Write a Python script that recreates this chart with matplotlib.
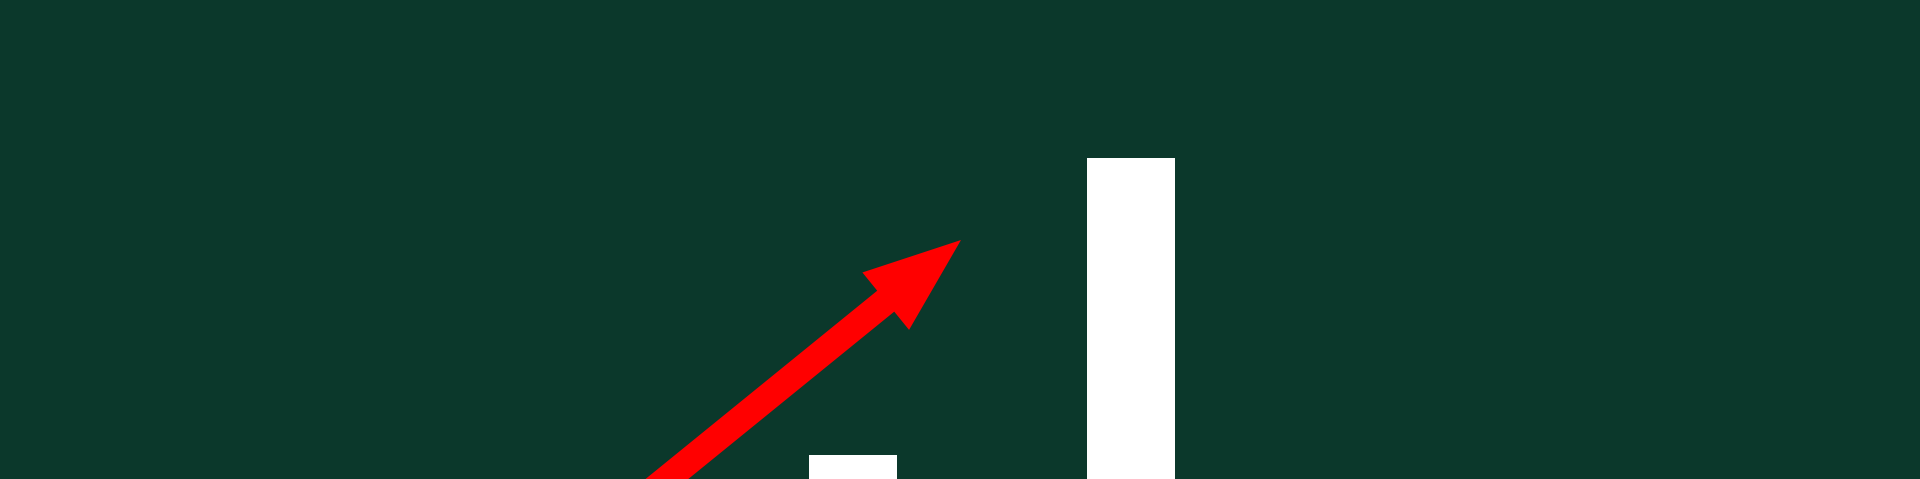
import matplotlib
matplotlib.use("Agg")
import matplotlib.pyplot as plt
from matplotlib.patches import FancyArrow

# bar heights, measured up from the bottom edge of the picture (px)
bar_labels = ["before", "after"]
bar_values = [24, 321]

# trend arrow: tail (off the bottom edge) and tip
arrow_tail = (630, -30)
arrow_tip = (961, 239)

W, H = 1920, 479
fig = plt.figure(figsize=(W / 100, H / 100), dpi=100)
fig.patch.set_facecolor("#0b382b")
ax = fig.add_axes([0, 0, 1, 1])
ax.set_facecolor("#0b382b")

# bars sit on (and run past) the lower edge
x0, step, bw = 853, 278, 88
xs = [x0 + i * step for i in range(len(bar_values))]
ax.bar(xs, [v + 20 for v in bar_values], width=bw, bottom=-20,
       color="white", edgecolor="none", zorder=2)

arr = FancyArrow(arrow_tail[0], arrow_tail[1],
                 arrow_tip[0] - arrow_tail[0], arrow_tip[1] - arrow_tail[1],
                 width=27, head_width=74, head_length=97,
                 length_includes_head=True, color="#ff0000", lw=0, zorder=3)
ax.add_patch(arr)

ax.set_xlim(0, W)
ax.set_ylim(0, H)
ax.axis("off")

fig.savefig("out.png", dpi=100, facecolor=fig.get_facecolor())
